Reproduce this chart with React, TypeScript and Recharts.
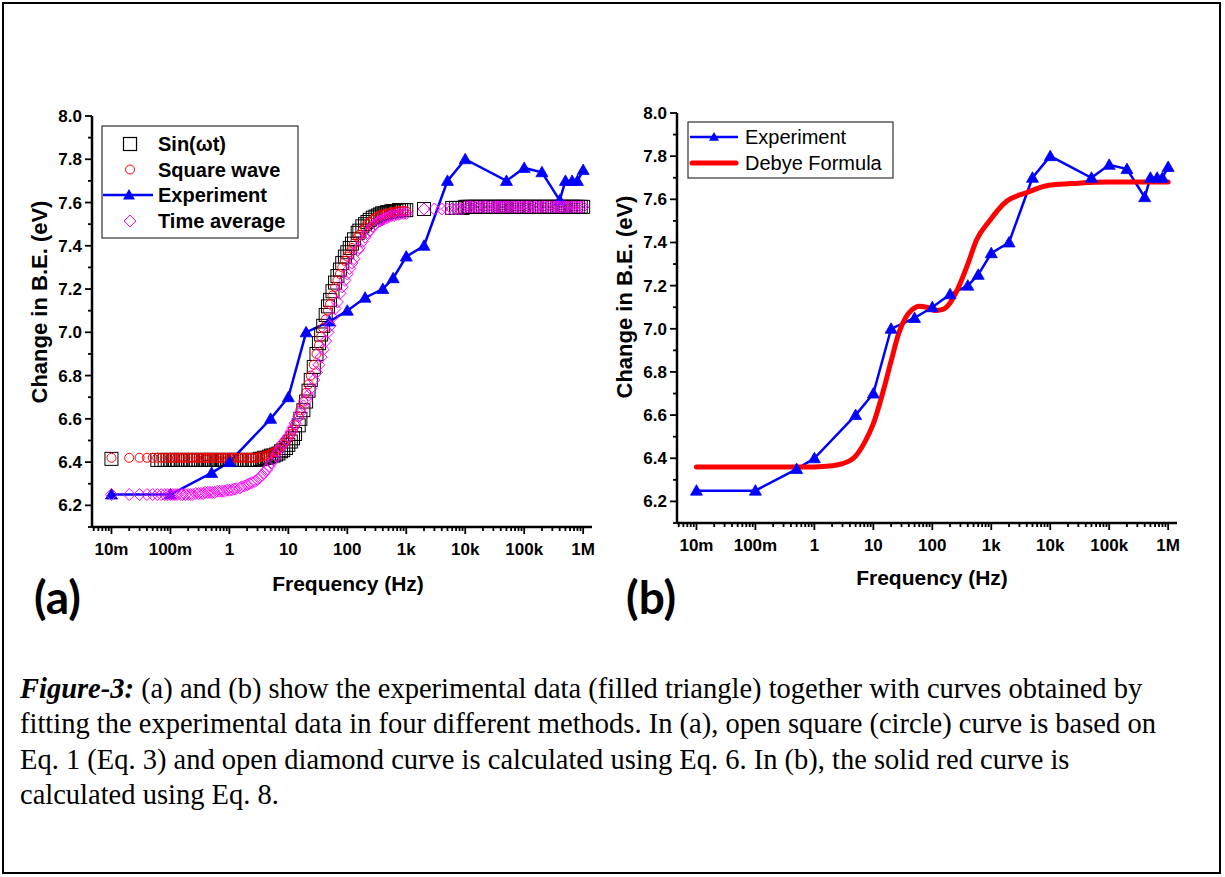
import React from 'react';
import { ComposedChart, Line, Scatter, XAxis, YAxis } from 'recharts';

// values
// panel (a): the three fitted curves share one frequency list
const FIT_FREQ = [
  0.01, 0.02, 0.03, 0.04, 0.05, 0.06, 0.07, 0.08, 0.09,
  0.1, 0.11, 0.12, 0.13, 0.15, 0.16, 0.18, 0.2, 0.22, 0.24, 0.27, 0.3, 0.33, 0.36, 0.39, 0.43, 0.47, 0.51, 0.56, 0.62, 0.68, 0.75, 0.82, 0.91,
  1, 1.1, 1.2, 1.3, 1.5, 1.6, 1.8, 2, 2.2, 2.4, 2.7, 3, 3.3, 3.6, 3.9, 4.3, 4.7, 5.1, 5.6, 6.2, 6.8, 7.5, 8.2, 9.1,
  10, 11, 12, 13, 15, 16, 18, 20, 22, 24, 27, 30, 33, 36, 39, 43, 47, 51, 56, 62, 68, 75, 82, 91,
  100, 110, 120, 130, 150, 160, 180, 200, 220, 240, 270, 300, 330, 360, 390, 430, 470, 510, 560, 620, 680, 750, 820, 910,
  1000,
  2000, 3000, 4000, 5000, 6000, 7000, 8000, 9000,
  10000, 11000, 12000, 13000, 15000, 16000, 18000, 20000, 22000, 24000, 27000, 30000, 33000, 36000, 39000, 43000, 47000, 51000, 56000, 62000, 68000, 75000, 82000, 91000,
  100000, 110000, 120000, 130000, 150000, 160000, 180000, 200000, 220000, 240000, 270000, 300000, 330000, 360000, 390000, 430000, 470000, 510000, 560000, 620000, 680000, 750000, 820000, 910000,
  1000000,
];

const SIN_VALUES = [
  6.415, null, null, null, null, 6.41, 6.41, 6.41, 6.41,
  6.41, 6.41, 6.41, 6.41, 6.41, 6.41, 6.41, 6.41, 6.41, 6.41, 6.41, 6.41, 6.41, 6.41, 6.41, 6.41, 6.41, 6.41, 6.41, 6.41, 6.41, 6.41, 6.41, 6.41,
  6.41, 6.41, 6.41, 6.41, 6.41, 6.41, 6.41, 6.41, 6.41, 6.41, 6.41, 6.41, 6.415, 6.415, 6.42, 6.42, 6.425, 6.43, 6.43, 6.435, 6.44, 6.45, 6.455, 6.465,
  6.48, 6.495, 6.51, 6.53, 6.57, 6.6, 6.64, 6.68, 6.73, 6.78, 6.84, 6.9, 6.95, 6.99, 7.03, 7.08, 7.12, 7.15, 7.19, 7.23, 7.26, 7.29, 7.32, 7.35,
  7.37, 7.39, 7.41, 7.43, 7.46, 7.47, 7.49, 7.5, 7.51, 7.52, 7.53, 7.535, 7.54, 7.545, 7.55, 7.55, 7.555, 7.555, 7.56, 7.56, 7.56, 7.565, 7.565, 7.565,
  7.565,
  7.57, null, null, null, 7.575, 7.575, 7.575, 7.575,
  7.58, 7.58, 7.58, 7.58, 7.58, 7.58, 7.58, 7.58, 7.58, 7.58, 7.58, 7.58, 7.58, 7.58, 7.58, 7.58, 7.58, 7.58, 7.58, 7.58, 7.58, 7.58, 7.58, 7.58,
  7.58, 7.58, 7.58, 7.58, 7.58, 7.58, 7.58, 7.58, 7.58, 7.58, 7.58, 7.58, 7.58, 7.58, 7.58, 7.58, 7.58, 7.58, 7.58, 7.58, 7.58, 7.58, 7.58, 7.58,
  7.58,
];

const SQUARE_WAVE_VALUES = [
  6.42, 6.42, 6.42, 6.42, 6.42, 6.42, 6.42, 6.42, 6.42,
  6.42, 6.42, 6.42, 6.42, 6.42, 6.42, 6.42, 6.42, 6.42, 6.42, 6.42, 6.42, 6.42, 6.42, 6.42, 6.42, 6.42, 6.42, 6.42, 6.42, 6.42, 6.42, 6.42, 6.42,
  6.42, 6.42, 6.42, 6.42, 6.42, 6.42, 6.42, 6.42, 6.42, 6.42, 6.42, 6.42, 6.425, 6.425, 6.43, 6.43, 6.435, 6.44, 6.445, 6.45, 6.46, 6.47, 6.48, 6.495,
  6.51, 6.53, 6.55, 6.57, 6.61, 6.64, 6.68, 6.72, 6.76, 6.8, 6.85, 6.9, 6.94, 6.98, 7.02, 7.06, 7.1, 7.13, 7.17, 7.21, 7.24, 7.27, 7.3, 7.33,
  7.35, 7.37, 7.39, 7.41, 7.44, 7.45, 7.47, 7.485, 7.5, 7.51, 7.52, 7.53, 7.535, 7.54, 7.545, 7.545, 7.55, 7.55, 7.555, 7.555, 7.56, 7.56, 7.56, 7.56,
  7.56,
  null, null, null, null, null, null, null, null,
  null, null, null, null, null, null, null, null, null, null, null, null, null, null, null, null, null, null, null, null, null, null, null, null,
  null, null, null, null, null, null, null, null, null, null, null, null, null, null, null, null, null, null, null, null, null, null, null, null,
  null,
];

const TIME_AVG_VALUES = [
  6.25, 6.25, 6.25, 6.25, 6.25, 6.25, 6.25, 6.25, 6.25,
  6.25, 6.25, 6.25, 6.25, 6.25, 6.25, 6.25, 6.25, 6.25, 6.25, 6.255, 6.255, 6.255, 6.255, 6.26, 6.26, 6.26, 6.26, 6.26, 6.265, 6.265, 6.265, 6.265, 6.27,
  6.27, 6.272, 6.275, 6.277, 6.28, 6.285, 6.29, 6.295, 6.3, 6.305, 6.31, 6.32, 6.33, 6.34, 6.35, 6.365, 6.38, 6.395, 6.41, 6.43, 6.45, 6.47, 6.49, 6.505,
  6.52, 6.54, 6.56, 6.58, 6.61, 6.63, 6.66, 6.685, 6.71, 6.74, 6.78, 6.815, 6.85, 6.885, 6.92, 6.96, 7.0, 7.03, 7.07, 7.11, 7.14, 7.18, 7.21, 7.24,
  7.27, 7.295, 7.32, 7.34, 7.38, 7.39, 7.42, 7.44, 7.46, 7.47, 7.49, 7.5, 7.51, 7.515, 7.52, 7.525, 7.53, 7.535, 7.54, 7.54, 7.545, 7.545, 7.55, 7.55,
  7.55,
  7.57, 7.57, 7.57, 7.57, 7.57, 7.57, 7.57, 7.57,
  7.58, 7.58, 7.58, 7.58, 7.58, 7.58, 7.58, 7.58, 7.58, 7.58, 7.58, 7.58, 7.58, 7.58, 7.58, 7.58, 7.58, 7.58, 7.58, 7.58, 7.58, 7.58, 7.58, 7.58,
  7.58, 7.58, 7.58, 7.58, 7.58, 7.58, 7.58, 7.58, 7.58, 7.58, 7.58, 7.58, 7.58, 7.58, 7.58, 7.58, 7.58, 7.58, 7.58, 7.58, 7.58, 7.58, 7.58, 7.58,
  7.58,
];

// experiment (both panels)
const EXP_FREQ = [0.01, 0.1, 0.5, 1, 5, 10, 20, 50, 100, 200, 400, 600, 1000, 2000, 5000, 10000, 50000, 100000, 200000, 400000, 500000, 650000, 800000, 1000000];
const EXP_VALUES = [6.25, 6.25, 6.35, 6.4, 6.6, 6.7, 7.0, 7.05, 7.1, 7.16, 7.2, 7.25, 7.35, 7.4, 7.7, 7.8, 7.7, 7.76, 7.74, 7.61, 7.7, 7.7, 7.7, 7.75];

// panel (b): Debye formula curve
const DEBYE_FREQ = [0.01, 0.1, 1, 2, 3, 5, 7, 10, 15, 20, 27, 35, 46, 60, 80, 110, 150, 200, 265, 400, 560, 930, 1800, 3900, 9500, 30000, 100000, 1000000];
const DEBYE_VALUES = [6.36, 6.36, 6.36, 6.365, 6.375, 6.41, 6.47, 6.56, 6.72, 6.85, 6.98, 7.05, 7.09, 7.105, 7.1, 7.085, 7.09, 7.12, 7.18, 7.3, 7.41, 7.5, 7.59, 7.63, 7.665, 7.675, 7.68, 7.68];

const X_TICKS = [0.01, 0.1, 1, 10, 100, 1000, 10000, 100000, 1000000];
const X_TICK_LABELS = ['10m', '100m', '1', '10', '100', '1k', '10k', '100k', '1M'];
const Y_TICKS = [6.2, 6.4, 6.6, 6.8, 7.0, 7.2, 7.4, 7.6, 7.8, 8.0];
const Y_TICK_LABELS = ['6.2', '6.4', '6.6', '6.8', '7.0', '7.2', '7.4', '7.6', '7.8', '8.0'];
const Y_MINOR = [6.1, 6.3, 6.5, 6.7, 6.9, 7.1, 7.3, 7.5, 7.7, 7.9];

const X_DOMAIN = [0.004677, 1412500];
const Y_DOMAIN = [6.1, 8.0];

const X_MINOR: number[] = [];
for (let e = -3; e <= 5; e++) {
  for (let m = 2; m <= 9; m++) {
    const t = m * Math.pow(10, e);
    if (t >= X_DOMAIN[0] && t <= X_DOMAIN[1]) X_MINOR.push(t);
  }
}
const X_ALL = [...X_TICKS, ...X_MINOR].sort((a, b) => a - b);
const Y_ALL = [...Y_TICKS, ...Y_MINOR].sort((a, b) => a - b);

const pairs = (fs: number[], vs: (number | null)[]) =>
  fs.map((f, i) => ({ f, v: vs[i] })).filter(d => d.v != null);

const sinData = pairs(FIT_FREQ, SIN_VALUES);
const squareData = pairs(FIT_FREQ, SQUARE_WAVE_VALUES);
const timeAvgData = pairs(FIT_FREQ, TIME_AVG_VALUES);
const expData = pairs(EXP_FREQ, EXP_VALUES);
const debyeData = pairs(DEBYE_FREQ, DEBYE_VALUES);

const SANS = "'Liberation Sans', Arial, sans-serif";
const BLUE = '#0000ff';
const RED = '#ff0000';
const MAGENTA = '#ff00ff';

function XTick(p: any) {
  const i = X_TICKS.indexOf(p.payload.value);
  const major = i >= 0;
  return (
    <g>
      <line x1={p.x} x2={p.x} y1={p.y} y2={p.y + (major ? 7 : 4)} stroke="#000" strokeWidth={1.8} />
      {major && (
        <text x={p.x} y={p.y + 28} textAnchor="middle" fontFamily={SANS} fontWeight="bold" fontSize={17} fill="#000">
          {X_TICK_LABELS[i]}
        </text>
      )}
    </g>
  );
}

function YTick(p: any) {
  const i = Y_TICKS.indexOf(p.payload.value);
  const major = i >= 0;
  return (
    <g>
      <line x1={p.x} x2={p.x - (major ? 7 : 4)} y1={p.y} y2={p.y} stroke="#000" strokeWidth={1.8} />
      {major && (
        <text x={p.x - 10} y={p.y + 6} textAnchor="end" fontFamily={SANS} fontWeight="bold" fontSize={17} fill="#000">
          {Y_TICK_LABELS[i]}
        </text>
      )}
    </g>
  );
}

const triangle = (cx: number, cy: number, s = 6) => `${cx},${cy - s} ${cx - s},${cy + s * 0.75} ${cx + s},${cy + s * 0.75}`;

const TriDot = (p: any) => {
  if (p.cx == null || p.cy == null) return <g key={`t-${p.index}`} />;
  return <polygon key={`t-${p.index}`} points={triangle(p.cx, p.cy)} fill={BLUE} stroke={BLUE} strokeWidth={0.8} />;
};

const squareShape = (p: any) => (
  <rect x={p.cx - 6.5} y={p.cy - 6.5} width={13} height={13} fill="none" stroke="#000" strokeWidth={1} />
);
const circleShape = (p: any) => <circle cx={p.cx} cy={p.cy} r={4.5} fill="none" stroke={RED} strokeWidth={1} />;
const diamondShape = (p: any) => (
  <polygon
    points={`${p.cx},${p.cy - 6} ${p.cx + 6},${p.cy} ${p.cx},${p.cy + 6} ${p.cx - 6},${p.cy}`}
    fill="none"
    stroke={MAGENTA}
    strokeWidth={1}
  />
);

const xAxis = (
  <XAxis
    dataKey="f"
    type="number"
    scale="log"
    domain={X_DOMAIN}
    allowDataOverflow
    ticks={X_ALL}
    interval={0}
    tick={(p: any) => <XTick {...p} />}
    tickLine={false}
    tickSize={0}
    tickMargin={0}
    height={40}
    axisLine={{ stroke: '#000', strokeWidth: 2.5 }}
  />
);

const yAxis = (
  <YAxis
    dataKey="v"
    type="number"
    domain={Y_DOMAIN}
    allowDataOverflow
    ticks={Y_ALL}
    interval={0}
    tick={(p: any) => <YTick {...p} />}
    tickLine={false}
    tickSize={0}
    tickMargin={0}
    width={60}
    axisLine={{ stroke: '#000', strokeWidth: 2.5 }}
  />
);

function LegendA() {
  const rows = [19, 44.5, 70, 96];
  const labels = ['Sin(\u03c9t)', 'Square wave', 'Experiment', 'Time average'];
  return (
    <svg width={198} height={114} style={{ position: 'absolute', left: 101, top: 125 }}>
      <rect x={1} y={1} width={196} height={112} fill="#fff" stroke="#333" strokeWidth={1.2} />
      <rect x={29 - 6.5} y={rows[0] - 6.5} width={13} height={13} fill="none" stroke="#000" strokeWidth={1.2} />
      <circle cx={29} cy={rows[1]} r={4.5} fill="none" stroke={RED} strokeWidth={1} />
      <line x1={2} x2={52} y1={rows[2]} y2={rows[2]} stroke={BLUE} strokeWidth={2.5} />
      <polygon points={triangle(28, rows[2], 6)} fill={BLUE} />
      <polygon points={`29,${rows[3] - 6} 35,${rows[3]} 29,${rows[3] + 6} 23,${rows[3]}`} fill="none" stroke={MAGENTA} strokeWidth={1} />
      {labels.map((l, i) => (
        <text key={l} x={57} y={rows[i] + 7} fontFamily={SANS} fontWeight="bold" fontSize={20} fill="#000">
          {l}
        </text>
      ))}
    </svg>
  );
}

function LegendB() {
  return (
    <svg width={207} height={58} style={{ position: 'absolute', left: 687, top: 121 }}>
      <rect x={1} y={1} width={205} height={56} fill="#fff" stroke="#333" strokeWidth={1.2} />
      <line x1={3} x2={51} y1={16} y2={16} stroke={BLUE} strokeWidth={2.5} />
      <polygon points={triangle(27, 16, 5)} fill={BLUE} />
      <line x1={5} x2={49} y1={42} y2={42} stroke={RED} strokeWidth={5} strokeLinecap="round" />
      <text x={58} y={23} fontFamily={SANS} fontSize={20} fill="#000">Experiment</text>
      <text x={58} y={49} fontFamily={SANS} fontSize={20} fill="#000">Debye Formula</text>
    </svg>
  );
}

const titleStyle: React.CSSProperties = {
  position: 'absolute',
  fontFamily: SANS,
  fontWeight: 'bold',
  fontSize: 21,
  whiteSpace: 'nowrap',
  lineHeight: 1,
};

const captionLine: React.CSSProperties = {
  position: 'absolute',
  left: 20,
  fontFamily: "'Liberation Serif', 'Times New Roman', serif",
  fontSize: 28.5,
  lineHeight: '36px',
  whiteSpace: 'nowrap',
  color: '#000',
};

export default function App() {
  return (
    <div style={{ position: 'relative', width: 1225, height: 877, background: '#fff', overflow: 'hidden' }}>
      <style>{'body{margin:0;background:#fff}'}</style>
      <div style={{ position: 'absolute', left: 2, top: 2, width: 1219, height: 872, border: '2px solid #000', boxSizing: 'border-box' }} />

      {/* panel (a) */}
      <div style={{ position: 'absolute', left: 0, top: 0 }}>
        <ComposedChart width={610} height={600} margin={{ top: 116, right: 18, bottom: 33, left: 32 }}>
          {xAxis}
          {yAxis}
          <Scatter data={sinData} shape={squareShape} isAnimationActive={false} />
          <Scatter data={squareData} shape={circleShape} isAnimationActive={false} />
          <Line data={expData} dataKey="v" type="linear" stroke={BLUE} strokeWidth={2.5} dot={TriDot} activeDot={false} isAnimationActive={false} />
          <Scatter data={timeAvgData} shape={diamondShape} isAnimationActive={false} />
        </ComposedChart>
      </div>
      <LegendA />
      <div style={{ ...titleStyle, left: 348, top: 573, transform: 'translateX(-50%)' }}>Frequency (Hz)</div>
      <div style={{ ...titleStyle, fontSize: 22, left: 40, top: 302, transform: 'translate(-50%, -50%) rotate(-90deg)' }}>Change in B.E. (eV)</div>
      <div style={{ position: 'absolute', left: 34, top: 574, fontFamily: "Lato, 'Open Sans', sans-serif", fontWeight: 'bold', fontSize: 46, lineHeight: 1 }}>(a)</div>

      {/* panel (b) */}
      <div style={{ position: 'absolute', left: 585, top: 0 }}>
        <ComposedChart width={610} height={600} margin={{ top: 113, right: 18, bottom: 37, left: 32 }}>
          {xAxis}
          {yAxis}
          <Line data={expData} dataKey="v" type="linear" stroke={BLUE} strokeWidth={2.5} dot={TriDot} activeDot={false} isAnimationActive={false} />
          <Line data={debyeData} dataKey="v" type="monotone" stroke={RED} strokeWidth={5} dot={false} activeDot={false} strokeLinecap="round" isAnimationActive={false} />
        </ComposedChart>
      </div>
      <LegendB />
      <div style={{ ...titleStyle, left: 932, top: 567, transform: 'translateX(-50%)' }}>Frequency (Hz)</div>
      <div style={{ ...titleStyle, fontSize: 22, left: 625, top: 297, transform: 'translate(-50%, -50%) rotate(-90deg)' }}>Change in B.E. (eV)</div>
      <div style={{ position: 'absolute', left: 626, top: 574, fontFamily: "Lato, 'Open Sans', sans-serif", fontWeight: 'bold', fontSize: 46, lineHeight: 1 }}>(b)</div>

      {/* caption */}
      <div style={{ ...captionLine, top: 670.5 }}>
        <b><i>Figure-3:</i></b> (a) and (b) show the experimental data (filled triangle) together with curves obtained by
      </div>
      <div style={{ ...captionLine, top: 706 }}>
        fitting the experimental data in four different methods. In (a), open square (circle) curve is based on
      </div>
      <div style={{ ...captionLine, top: 741.5 }}>
        Eq. 1 (Eq. 3) and open diamond curve is calculated using Eq. 6. In (b), the solid red curve is
      </div>
      <div style={{ ...captionLine, top: 777 }}>calculated using Eq. 8.</div>
    </div>
  );
}
